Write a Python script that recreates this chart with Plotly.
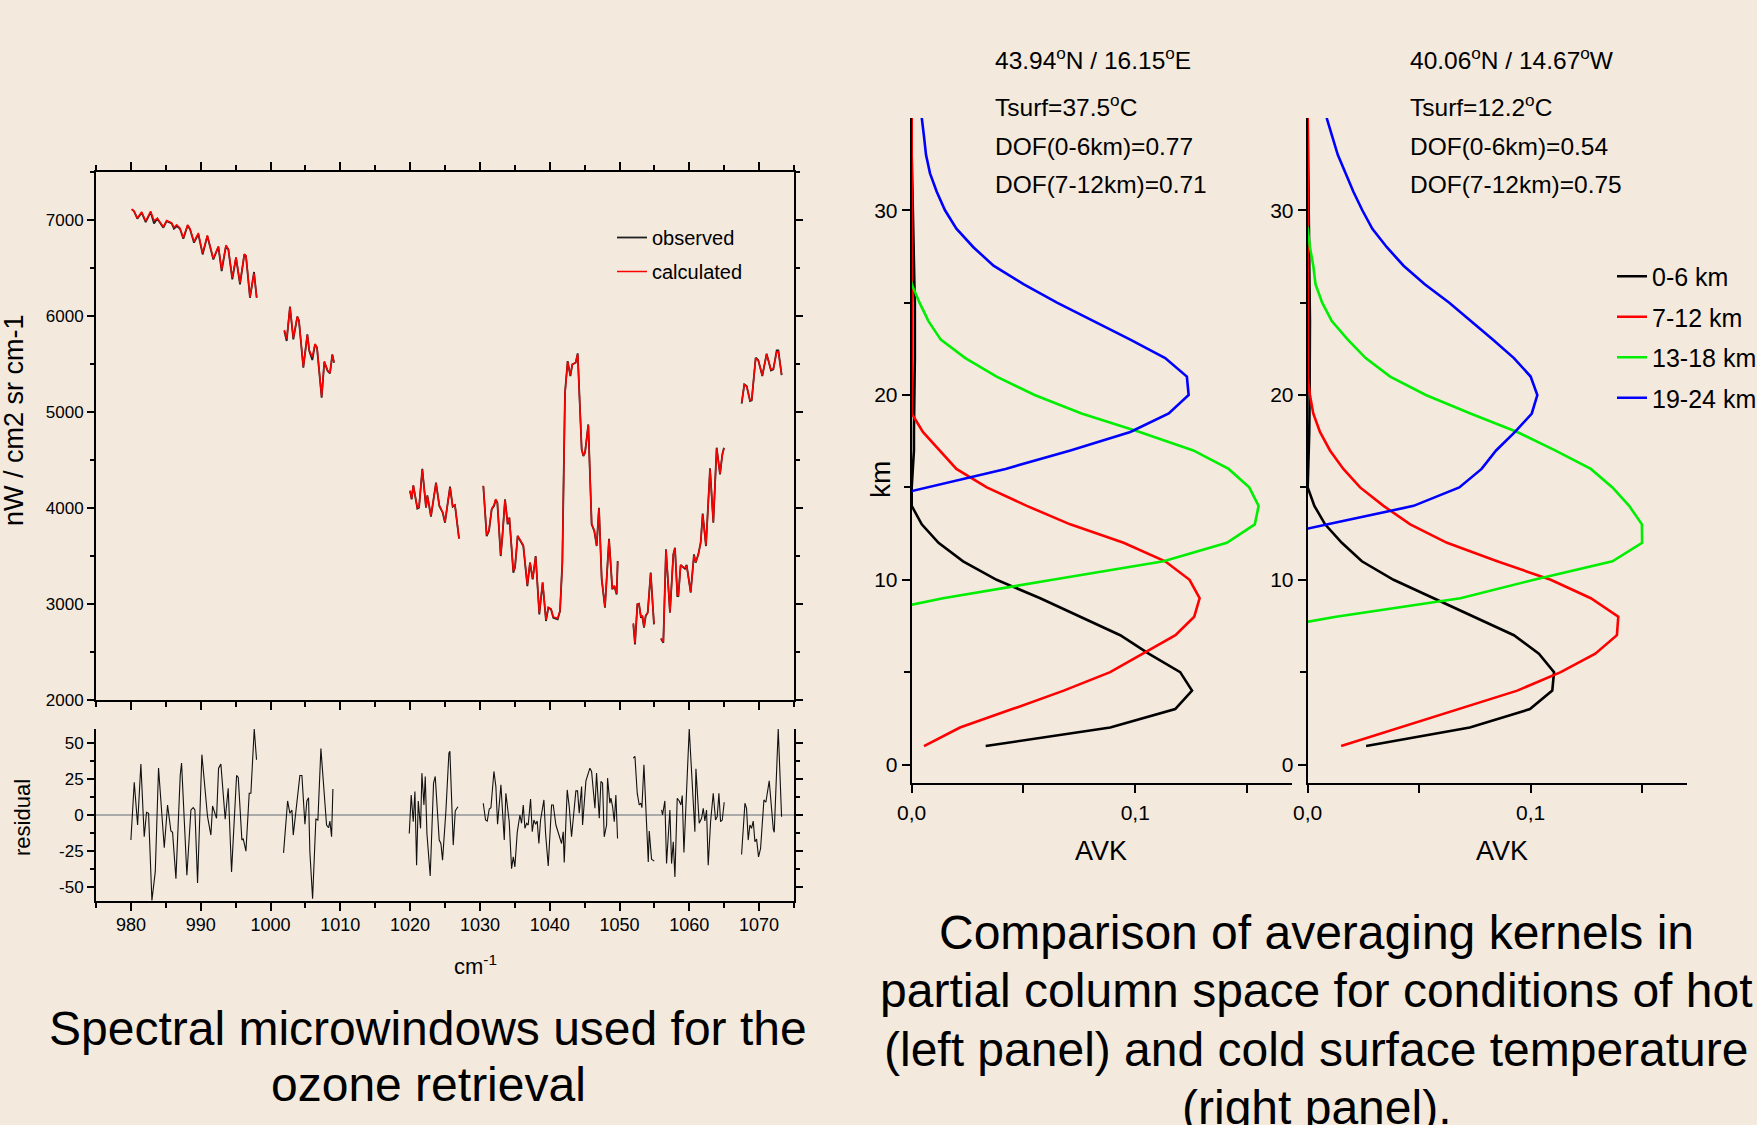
import plotly.graph_objects as go

W, H = 1757, 1125
BG = "#F3E9DD"
NARROW = "Liberation Sans, Arial, sans-serif"
REG = "Liberation Sans, Arial, sans-serif"

# ---------------- spectrum data (cm-1, nW / cm2 sr cm-1) ----------------
w1_x = [980.11, 980.44, 980.92, 981.54, 982.12, 982.83, 983.31, 983.79, 984.65, 985.12, 985.84, 986.17, 986.56, 987.03, 987.51, 988.13, 988.47, 989.04, 989.66, 990.28, 990.95, 991.81, 992.53, 993.0, 993.62, 993.96, 994.53, 995.06, 995.63, 996.25, 996.49, 997.06, 997.64, 998.02]
w1_obs = [7106, 7088, 7009, 7071, 6974, 7078, 6960, 7009, 6915, 6984, 6960, 6905, 6932, 6905, 6800, 6939, 6898, 6759, 6846, 6637, 6828, 6585, 6717, 6464, 6724, 6689, 6377, 6603, 6325, 6637, 6620, 6186, 6454, 6186]
w1_calc = [7110, 7090, 7015, 7080, 6985, 7085, 6990, 7010, 6925, 6990, 6965, 6920, 6945, 6910, 6810, 6945, 6905, 6770, 6860, 6650, 6835, 6595, 6720, 6480, 6735, 6690, 6395, 6610, 6340, 6640, 6625, 6195, 6440, 6190]

w2_x = [1001.98, 1002.32, 1002.79, 1003.27, 1003.84, 1004.08, 1004.70, 1005.28, 1005.56, 1005.99, 1006.38, 1006.66, 1007.33, 1007.71, 1008.19, 1008.52, 1008.86, 1009.10]
w2_obs = [5840, 5736, 6093, 5753, 5989, 5944, 5458, 5805, 5632, 5538, 5701, 5666, 5146, 5517, 5423, 5399, 5597, 5510]
w2_calc = [5850, 5760, 6090, 5770, 5990, 5950, 5470, 5800, 5640, 5570, 5705, 5670, 5160, 5525, 5430, 5405, 5590, 5515]

w3_x = [1019.99, 1020.22, 1020.46, 1021.04, 1021.28, 1021.75, 1022.28, 1022.47, 1022.99, 1023.71, 1024.19, 1024.67, 1025.0, 1025.72, 1026.10, 1026.43, 1027.01]
w3_obs = [4175, 4088, 4234, 3991, 4001, 4407, 4001, 4130, 3908, 4261, 4019, 3949, 3845, 4220, 4012, 4026, 3679]
w3_calc = [4180, 4095, 4230, 4000, 4010, 4395, 4010, 4125, 3920, 4255, 4025, 3955, 3855, 4210, 4020, 4030, 3680]

w4_x = [1030.49, 1030.97, 1031.30, 1031.69, 1032.02, 1032.26, 1032.50, 1032.98, 1033.21, 1033.60,
        1033.98, 1034.22, 1034.79, 1035.03, 1035.41, 1036.22, 1036.80, 1037.18, 1037.56, 1037.99,
        1038.51, 1038.99, 1039.47, 1039.80, 1040.19, 1040.52, 1041.14, 1041.48, 1041.81, 1042.19,
        1042.57, 1042.96, 1043.24, 1043.72, 1044.01, 1044.58, 1044.82, 1045.06, 1045.53, 1046.01,
        1046.39, 1046.73, 1047.06, 1047.45, 1047.92, 1048.50, 1048.97, 1049.26, 1049.59, 1049.74]
w4_obs = [4227, 3706, 3758, 3984, 4019, 4081, 4053, 3498, 3689, 4088,
          3828, 3897, 3325, 3377, 3706, 3602, 3186, 3429, 3255, 3498,
          2891, 3221, 2822, 2960, 2943, 2856, 2839, 2926, 3429, 5198,
          5527, 5371, 5493, 5510, 5607, 4608, 4539, 4573, 4868, 3828,
          3758, 3602, 4001, 3255, 2960, 3678, 3151, 3186, 3099, 3446]
w4_calc = [4230, 3715, 3765, 3990, 4030, 4090, 4060, 3510, 3695, 4080,
           3835, 3900, 3340, 3385, 3710, 3610, 3200, 3430, 3265, 3490,
           2905, 3225, 2835, 2965, 2950, 2865, 2850, 2930, 3420, 5190,
           5520, 5380, 5490, 5515, 5600, 4615, 4545, 4580, 4860, 3835,
           3765, 3610, 3995, 3265, 2970, 3670, 3160, 3190, 3110, 3440]

w5_x = [1051.98, 1052.22, 1052.56, 1052.79, 1053.08, 1053.27, 1053.51, 1053.75, 1054.04, 1054.47, 1054.94]
w5_obs = [2787, 2579, 2995, 3002, 2856, 2874, 2752, 2874, 2908, 3325, 2787]
w5_calc = [2800, 2590, 3000, 3000, 2865, 2880, 2760, 2880, 2910, 3315, 2795]

w6_x = [1055.95, 1056.28, 1056.66, 1057.23, 1057.71, 1057.95, 1058.29, 1058.43, 1058.76, 1059.14, 1059.38, 1059.62, 1059.86, 1060.20, 1060.67, 1060.91, 1061.29, 1061.63, 1061.92, 1062.39, 1062.97, 1063.44, 1063.92, 1064.40, 1064.73, 1064.97]
w6_obs = [2638, 2596, 3568, 2908, 3516, 3585, 3082, 3082, 3405, 3377, 3366, 3405, 3290, 3117, 3516, 3429, 3516, 3637, 3939, 3602, 4411, 3845, 4626, 4348, 4556, 4626]
w6_calc = [2645, 2605, 3560, 2915, 3510, 3580, 3090, 3090, 3400, 3385, 3375, 3395, 3300, 3125, 3505, 3435, 3510, 3640, 3930, 3610, 4400, 3855, 4615, 4355, 4550, 4620]

w7_x = [1067.50, 1067.88, 1068.22, 1068.70, 1068.94, 1069.51, 1069.89, 1070.46, 1071.08, 1071.70, 1072.04, 1072.52, 1072.76, 1073.23]
w7_obs = [5084, 5285, 5267, 5111, 5118, 5562, 5535, 5372, 5604, 5430, 5441, 5638, 5638, 5382]
w7_calc = [5095, 5280, 5262, 5120, 5125, 5555, 5530, 5380, 5598, 5440, 5448, 5620, 5625, 5385]

# ---------------- residual data ----------------
r1_x = [980.0, 980.48, 980.96, 981.43, 981.91, 982.24, 982.53, 983.01, 983.49, 983.96, 984.78, 985.25, 985.73, 985.97, 986.45, 987.07, 987.26, 988.02, 988.60, 988.93, 989.17, 989.55, 990.17, 990.98, 991.46, 991.70, 992.27, 992.56, 992.89, 993.51, 993.94, 994.42, 995.14, 995.38, 995.90, 996.09, 996.48, 996.95, 997.19, 997.67, 998.0]
r1_y = [-17.5, 22.9, -7.0, 35.5, -15.2, 1.9, 1.2, -59.6, -39.7, 32.7, -22.9, 7.0, -11.2, -12.1, -44.4, 28.0, 36.2, -42.1, 3.5, 5.1, 3.5, -47.4, 42.1, -1.2, -14.0, 6.3, -2.3, 32.7, 35.5, -3.0, 18.7, -39.7, 27.6, 26.2, -17.5, -16.4, -25.2, 15.2, 15.2, 60.0, 38.6]
r2_x = [1001.87, 1002.45, 1002.78, 1003.07, 1003.26, 1003.64, 1003.88, 1004.21, 1004.50, 1004.93, 1005.21, 1005.45, 1005.64, 1006.03, 1006.50, 1006.79, 1007.22, 1007.60, 1008.03, 1008.32, 1008.51, 1008.75, 1008.94]
r2_y = [-26.4, 9.8, 1.2, 3.5, -14.0, 3.5, 11.2, 27.6, 27.6, -6.5, 9.8, 12.1, -25.7, -58.4, -2.8, -3.5, 46.3, 19.9, -7.0, -8.9, -4.2, -15.2, 18.2]
r3_x = [1019.88, 1020.16, 1020.45, 1020.69, 1020.93, 1021.17, 1021.50, 1021.69, 1021.98, 1022.17, 1022.41, 1022.88, 1023.36, 1023.60, 1024.17, 1024.41, 1024.65, 1025.13, 1025.56, 1025.70, 1026.18, 1026.47, 1026.85]
r3_y = [-12.9, 14.0, -4.7, 16.4, -35.0, 9.8, -9.3, 29.2, 7.0, 26.9, -12.9, -42.5, 22.2, 26.9, -17.5, -19.9, -31.5, 2.8, 43.2, 44.4, -21.0, 2.8, 5.8]
r4_x = [1030.48, 1030.81, 1031.05, 1031.34, 1031.58, 1032.01, 1032.29, 1032.53, 1033.01, 1033.34,
        1033.49, 1033.72, 1034.20, 1034.54, 1034.78, 1035.01, 1035.35, 1035.73, 1035.97, 1036.21,
        1036.45, 1036.69, 1036.92, 1037.26, 1037.50, 1037.74, 1037.98, 1038.21, 1038.45, 1038.69,
        1038.93, 1039.17, 1039.41, 1039.79, 1040.27, 1040.51, 1040.89, 1041.46, 1041.70, 1041.94,
        1042.08, 1042.51, 1042.80, 1043.13, 1043.37, 1043.75, 1043.99, 1044.23, 1044.57, 1044.71,
        1045.19, 1045.76, 1046.00, 1046.48, 1046.71, 1047.10, 1047.34, 1047.57, 1047.81, 1048.15,
        1048.29, 1048.62, 1048.77, 1049.01, 1049.25, 1049.48, 1049.72]
r4_y = [8.2, -3.5, -4.2, 4.2, 5.1, 30.4, 19.9, -6.5, 21.0, -4.7,
        -17.5, 15.2, -4.7, -37.4, -29.2, -36.2, -12.1, 0.0, -5.8, 7.0,
        -9.3, -5.8, -7.0, 11.2, -11.7, -3.5, -6.5, -4.2, -19.9, -3.5,
        4.7, 10.5, -12.9, -35.5, 7.0, 7.0, -7.0, -16.4, -19.9, -11.7,
        -33.2, 17.5, 5.8, -15.2, -2.3, 16.8, 16.8, 1.2, 19.9, -7.0,
        23.8, 32.7, 30.4, 4.7, 29.2, -2.3, 23.4, 22.2, -15.2, -7.0,
        25.7, 8.2, 11.7, 5.8, -4.7, 14.0, -16.4]
r5_x = [1051.97, 1052.21, 1052.54, 1052.83, 1053.07, 1053.21, 1053.50, 1053.78, 1054.12, 1054.26, 1054.59, 1054.98]
r5_y = [39.7, 40.9, 15.2, 7.0, 8.2, 5.1, 35.0, 2.3, -32.7, -11.2, -30.8, -32.2]
r6_x = [1056.03, 1056.17, 1056.50, 1056.74, 1057.22, 1057.46, 1057.70, 1057.94, 1058.27, 1058.56, 1058.80, 1058.99, 1059.23, 1059.51, 1059.99, 1060.80, 1060.95, 1061.42, 1061.76, 1062.00, 1062.23, 1062.47, 1062.71, 1063.05, 1063.43, 1063.76, 1064.00, 1064.24, 1064.48, 1064.72, 1065.00]
r6_y = [3.5, 0.0, 9.8, -33.9, 3.5, -33.9, -18.7, -43.2, 11.7, 9.8, 7.0, 13.6, -26.2, 7.0, 60.0, -11.7, 32.2, -5.8, -2.3, 4.7, -4.2, 3.5, -35.0, -4.7, 15.2, -3.5, -1.2, 15.2, -4.7, -3.5, 8.9]
r7_x = [1067.49, 1067.97, 1068.20, 1068.44, 1068.68, 1068.92, 1069.16, 1069.40, 1069.64, 1069.92, 1070.21, 1070.69, 1070.97, 1071.45, 1072.03, 1072.17, 1072.74, 1073.22]
r7_y = [-27.6, 8.2, 4.7, -17.5, -7.0, -9.3, -4.2, -18.7, -16.8, -29.2, -23.4, 10.5, 8.9, 23.8, -9.8, -12.1, 60.0, -1.2]

# ---------------- averaging kernels (km levels 1..35) ----------------
km_levels = list(range(1, 36))
hot_0_6 = [0.0331, 0.0888, 0.1179, 0.1254, 0.1201, 0.106, 0.0933, 0.0754, 0.0575, 0.038, 0.023, 0.012, 0.0045, 0.0,
           0.0, 0.0005, 0.001, 0.001, 0.0012, 0.0012, 0.0013, 0.0014, 0.0015, 0.0015, 0.0014, 0.0012, 0.001, 0.0008,
           0.0005, 0.0003, 0.0002, 0.0001, 0.0, 0.0, 0.0]
hot_7_12 = [0.0055, 0.0216, 0.045, 0.068, 0.0888, 0.1037, 0.118, 0.1264, 0.1288, 0.1243, 0.1134, 0.0948, 0.0709,
            0.0515, 0.0336, 0.020, 0.0127, 0.005, 0.0, 0.0, 0.0, 0.0, 0.0, 0.0, 0.0, 0.0, 0.0, 0.0, 0.0, 0.0, 0.0,
            0.0, 0.0, 0.0, 0.0]
hot_13_18 = [-0.02, -0.02, -0.02, -0.02, -0.02, -0.022, -0.025, -0.026, 0.014, 0.063, 0.1127, 0.141, 0.1535,
             0.1552, 0.151, 0.1418, 0.126, 0.102, 0.076, 0.055, 0.038, 0.024, 0.013, 0.0075, 0.0035, 0.0, -0.002,
             -0.003, -0.004, -0.004, -0.004, -0.004, -0.004, -0.004, -0.004]
hot_19_24 = [-0.03, -0.03, -0.03, -0.03, -0.03, -0.03, -0.03, -0.03, -0.03, -0.03, -0.03, -0.03, -0.03, -0.028,
             0.007, 0.042, 0.071, 0.0978, 0.115, 0.1239, 0.1231, 0.1134, 0.0978, 0.0813, 0.065, 0.050, 0.0366,
             0.0276, 0.020, 0.0149, 0.0112, 0.0082, 0.0064, 0.0055, 0.0045]
cold_0_6 = [0.0262, 0.0727, 0.0997, 0.1097, 0.1105, 0.1037, 0.0925, 0.0745, 0.0565, 0.0385, 0.0243, 0.0153, 0.0078,
            0.003, 0.0, 0.0003, 0.0005, 0.0007, 0.0008, 0.0009, 0.001, 0.001, 0.001, 0.001, 0.0009, 0.0008, 0.0007,
            0.0006, 0.0005, 0.0004, 0.0003, 0.0002, 0.0001, 0.0, 0.0]
cold_7_12 = [0.015, 0.0415, 0.0685, 0.094, 0.1135, 0.129, 0.1387, 0.1393, 0.127, 0.109, 0.085, 0.0625, 0.046, 0.034,
             0.0235, 0.016, 0.010, 0.0055, 0.0025, 0.001, 0.0, 0.0, 0.0, 0.0, 0.0, 0.0, 0.0, 0.0, 0.0, 0.0, 0.0,
             0.0, 0.0, 0.0, 0.0]
cold_13_18 = [-0.03, -0.03, -0.03, -0.03, -0.03, -0.03, -0.034, 0.0127, 0.0685, 0.1015, 0.1367, 0.150, 0.1499,
              0.1442, 0.1367, 0.127, 0.111, 0.094, 0.073, 0.053, 0.037, 0.026, 0.018, 0.0108, 0.0065, 0.0035,
              0.0025, 0.001, 0.0, -0.002, -0.002, -0.002, -0.002, -0.002, -0.002]
cold_19_24 = [-0.03, -0.03, -0.03, -0.03, -0.03, -0.03, -0.03, -0.03, -0.03, -0.03, -0.03, -0.030, 0.009, 0.0475,
              0.068, 0.078, 0.0845, 0.093, 0.1005, 0.103, 0.100, 0.0925, 0.083, 0.0735, 0.0635, 0.0525, 0.043,
              0.0355, 0.029, 0.0245, 0.0205, 0.017, 0.0135, 0.011, 0.0085]

layer_names = ["0-6 km", "7-12 km", "13-18 km", "19-24 km"]
layer_colors = ["#000000", "#FF0000", "#00EE00", "#0000FF"]

hot_labels = ["43.94<sup>o</sup>N / 16.15<sup>o</sup>E", "Tsurf=37.5<sup>o</sup>C", "DOF(0-6km)=0.77", "DOF(7-12km)=0.71"]
cold_labels = ["40.06<sup>o</sup>N / 14.67<sup>o</sup>W", "Tsurf=12.2<sup>o</sup>C", "DOF(0-6km)=0.54", "DOF(7-12km)=0.75"]
avk_tickvals = [0.0, 0.1]
avk_ticktext = ["0,0", "0,1"]
km_tickvals = [0, 10, 20, 30]
res_tickvals = [-50, -25, 0, 25, 50]
res_ticktext = ["-50", "-25", "0", "25", "50"]
caption_left = ["Spectral microwindows used for the", "ozone retrieval"]
caption_right = ["Comparison of averaging kernels in", "partial column space for conditions of hot",
                 "(left panel) and cold surface temperature", "(right panel)."]


def px(x):
    return x / W


def py(y):
    return 1 - y / H


fig = go.Figure()

windows = [(w1_x, w1_obs, w1_calc), (w2_x, w2_obs, w2_calc), (w3_x, w3_obs, w3_calc), (w4_x, w4_obs, w4_calc),
           (w5_x, w5_obs, w5_calc), (w6_x, w6_obs, w6_calc), (w7_x, w7_obs, w7_calc)]
for i, (xs, obs, calc) in enumerate(windows):
    n = min(len(xs), len(obs))
    fig.add_trace(go.Scatter(x=xs[:n], y=obs[:n], mode="lines", line=dict(color="#202020", width=1.8),
                             name="observed", legend="legend", legendgroup="obs", showlegend=(i == 0),
                             xaxis="x", yaxis="y"))
for i, (xs, obs, calc) in enumerate(windows):
    n = min(len(xs), len(calc))
    fig.add_trace(go.Scatter(x=xs[:n], y=calc[:n], mode="lines", line=dict(color="#FF0000", width=1.5),
                             name="calculated", legend="legend", legendgroup="calc", showlegend=(i == 0),
                             xaxis="x", yaxis="y"))

for xs, ys in [(r1_x, r1_y), (r2_x, r2_y), (r3_x, r3_y), (r4_x, r4_y), (r5_x, r5_y), (r6_x, r6_y), (r7_x, r7_y)]:
    n = min(len(xs), len(ys))
    fig.add_trace(go.Scatter(x=xs[:n], y=ys[:n], mode="lines", line=dict(color="#111111", width=1.1),
                             showlegend=False, xaxis="x2", yaxis="y2"))

for series, ax, show in [([hot_0_6, hot_7_12, hot_13_18, hot_19_24], ("x3", "y3"), False),
                         ([cold_0_6, cold_7_12, cold_13_18, cold_19_24], ("x4", "y4"), True)]:
    for vals, name, col in zip(series, layer_names, layer_colors):
        fig.add_trace(go.Scatter(x=vals, y=km_levels, mode="lines", line=dict(color=col, width=2.6),
                                 name=name, legend="legend2", legendgroup=name, showlegend=show,
                                 xaxis=ax[0], yaxis=ax[1]))

axis_common = dict(showline=True, linecolor="black", linewidth=2, showgrid=False, zeroline=False,
                   ticks="outside", tickcolor="black", tickwidth=1.5, color="black", automargin=False)

spec_x_dom = [px(96), px(794)]
fig.update_layout(
    xaxis=dict(domain=spec_x_dom, anchor="y", range=[975, 1075], tick0=980, dtick=10, ticklen=8,
               showticklabels=False, mirror="ticks",
               minor=dict(dtick=5, tick0=980, ticklen=5, ticks="outside", tickcolor="black"), **axis_common),
    yaxis=dict(domain=[py(700), py(171.5)], anchor="x", range=[2000, 7500], tick0=2000, dtick=1000, ticklen=7,
               mirror="ticks", tickfont=dict(family=NARROW, size=17, color="black"),
               minor=dict(dtick=500, tick0=2000, ticklen=4, ticks="outside", tickcolor="black"), **axis_common),
    xaxis2=dict(domain=spec_x_dom, anchor="y2", range=[975, 1075], tick0=980, dtick=10, ticklen=8,
                tickfont=dict(family=NARROW, size=18, color="black"), ticklabelstandoff=-2,
                minor=dict(dtick=5, tick0=980, ticklen=5, ticks="outside", tickcolor="black"), **axis_common),
    yaxis2=dict(domain=[py(901), py(729)], anchor="x2", range=[-60, 60], tickvals=res_tickvals,
                ticktext=res_ticktext, ticklen=7,
                mirror="ticks", tickfont=dict(family=NARROW, size=17, color="black"),
                minor=dict(dtick=12.5, tick0=0, ticklen=4, ticks="outside", tickcolor="black"),
                **{k: v for k, v in axis_common.items() if k != "zeroline"},
                zeroline=True, zerolinecolor="#AAAAAA", zerolinewidth=2.2),
)

avk_y_dom = [py(783), py(117.9)]
for xa, ya, xdom in [("xaxis3", "yaxis3", [px(911.7), px(1291.7)]), ("xaxis4", "yaxis4", [px(1307.7), px(1686.7)])]:
    xid = "x" + xa[5:]
    yid = "y" + ya[5:]
    fig.update_layout({
        xa: dict(domain=xdom, anchor=yid, range=[0, 0.17], tickvals=avk_tickvals, ticktext=avk_ticktext,
                 ticklen=8, tickfont=dict(family=NARROW, size=21, color="black"), ticklabelstandoff=2,
                 minor=dict(tickvals=[0.05, 0.15], ticklen=8, ticks="outside", tickcolor="black"), **axis_common),
        ya: dict(domain=avk_y_dom, anchor=xid, range=[-1, 35], tickvals=km_tickvals, ticklen=8,
                 tickfont=dict(family=NARROW, size=21, color="black"),
                 minor=dict(tickvals=[5, 15, 25], ticklen=6, ticks="outside", tickcolor="black"), **axis_common),
    })

text_rows = [59, 106, 146, 185]
annotations = []
for i, t in enumerate(hot_labels):
    annotations.append(dict(text=t, x=px(993), y=py(text_rows[i]), xanchor="left", yanchor="middle"))
for i, t in enumerate(cold_labels):
    annotations.append(dict(text=t, x=px(1408), y=py(text_rows[i]), xanchor="left", yanchor="middle"))
for a in annotations:
    a.update(xref="paper", yref="paper", showarrow=False, font=dict(family=NARROW, size=24.5, color="black"))

more = [
    dict(text="nW / cm2 sr cm-1", x=px(14), y=py(420), textangle=-90, font=dict(family=REG, size=27)),
    dict(text="residual", x=px(22), y=py(818), textangle=-90, font=dict(family=REG, size=22)),
    dict(text="cm<sup>-1</sup>", x=px(476), y=py(965), font=dict(family=NARROW, size=22)),
    dict(text="km", x=px(880), y=py(480), textangle=-90, font=dict(family=NARROW, size=28)),
    dict(text="AVK", x=px(1101), y=py(851), font=dict(family=NARROW, size=27)),
    dict(text="AVK", x=px(1502), y=py(851), font=dict(family=NARROW, size=27)),
]
for i, t in enumerate(caption_left):
    more.append(dict(text=t, x=px(428), y=py([1028, 1084][i]), font=dict(family=REG, size=48)))
for i, t in enumerate(caption_right):
    more.append(dict(text=t, x=px(1316), y=py([932, 990, 1049, 1107][i]), font=dict(family=REG, size=48)))
for a in more:
    a.update(xref="paper", yref="paper", showarrow=False, xanchor="center", yanchor="middle")
    a["font"]["color"] = "black"
annotations += more

fig.update_layout(
    width=W, height=H, autosize=False, margin=dict(l=0, r=0, t=0, b=0, pad=0, autoexpand=False),
    paper_bgcolor=BG, plot_bgcolor=BG, annotations=annotations,
    legend=dict(x=px(612), y=py(218), xanchor="left", yanchor="top", bgcolor="rgba(0,0,0,0)",
                font=dict(family=NARROW, size=20, color="black"), tracegroupgap=5, itemwidth=30),
    legend2=dict(x=px(1612), y=py(253.5), xanchor="left", yanchor="top", bgcolor="rgba(0,0,0,0)",
                 font=dict(family=NARROW, size=25, color="black"), tracegroupgap=5, itemwidth=30),
)

fig.write_html("out.html", config={"displayModeBar": False},
               post_script="document.body.style.margin='0px';document.body.style.background='%s';" % BG)
